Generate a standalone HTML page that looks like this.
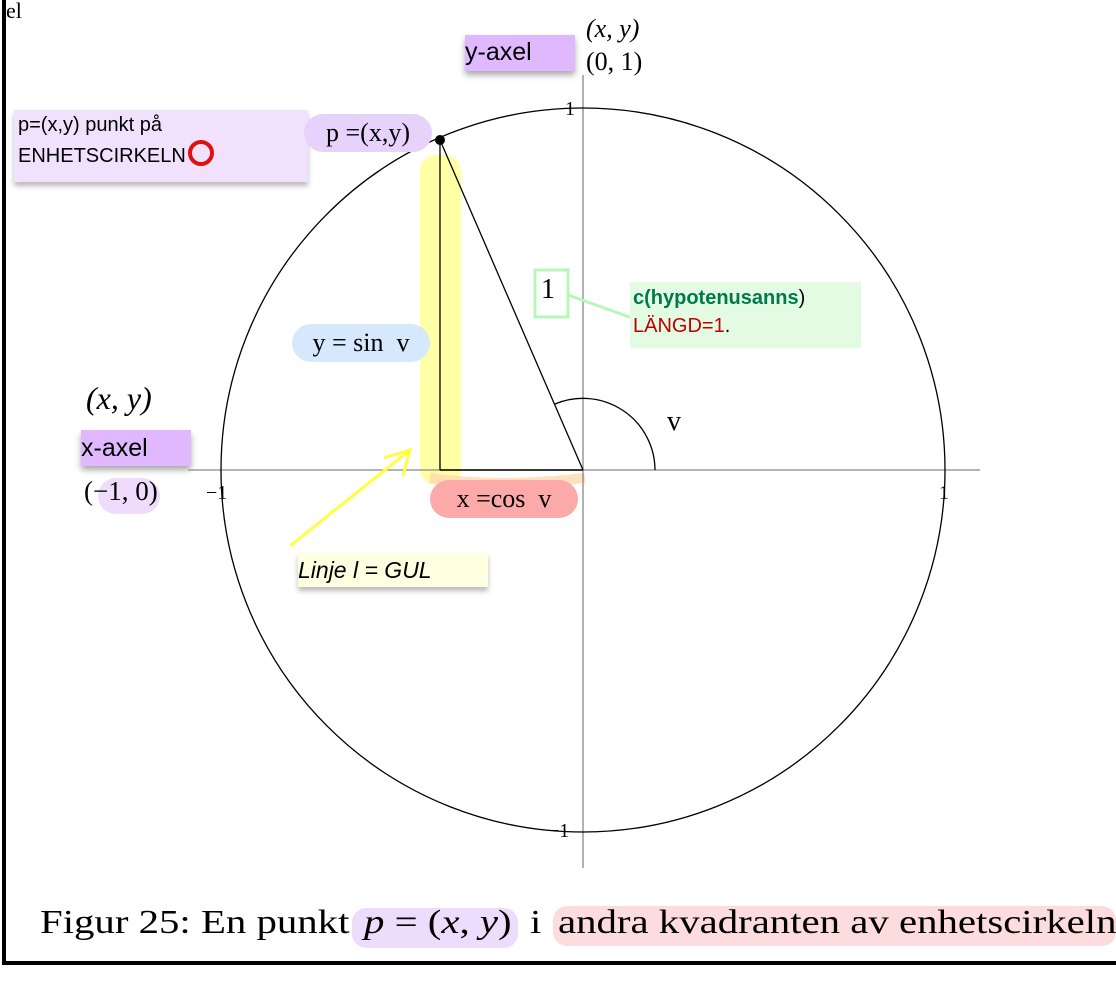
<!DOCTYPE html>
<html><head><meta charset="utf-8"><style>
body{margin:0;background:#fff;width:1116px;height:1000px;overflow:hidden;position:relative;font-family:"Liberation Serif",serif}
.a{position:absolute;white-space:nowrap}
.s{font-family:"Liberation Sans",sans-serif}
.c{font-size:34px;top:904px;transform:scaleX(1.2);transform-origin:0 0}
</style></head><body>
<svg width="1116" height="1000" style="position:absolute;left:0;top:0">
<line x1="4" y1="0" x2="4" y2="964" stroke="#000" stroke-width="4"/>
<line x1="2" y1="963" x2="1116" y2="963" stroke="#000" stroke-width="4"/>
<rect x="420" y="155" width="41" height="330" rx="16" fill="#ffff90" opacity="0.8"/>
<path d="M430 478 Q500 488 585 478" stroke="#ffd8b0" stroke-width="10" fill="none" opacity="0.8"/>
<line x1="188" y1="470" x2="980" y2="470" stroke="#888" stroke-width="1.3"/>
<line x1="583" y1="75" x2="583" y2="868" stroke="#888" stroke-width="1.3"/>
<circle cx="583" cy="470" r="362" fill="none" stroke="#000" stroke-width="1.3"/>
<line x1="440" y1="140" x2="440" y2="470" stroke="#000" stroke-width="1.3"/>
<line x1="440" y1="470" x2="583" y2="470" stroke="#000" stroke-width="1.6"/>
<line x1="440" y1="140" x2="583" y2="470" stroke="#000" stroke-width="1.3"/>
<path d="M655 470 A72 72 0 0 0 555 404" fill="none" stroke="#000" stroke-width="1.3"/>
<circle cx="440" cy="140" r="5" fill="#000"/>
<line x1="290" y1="546" x2="410" y2="450" stroke="#ffff40" stroke-width="3"/>
<polyline points="384,458 410,450 403,476" fill="none" stroke="#ffff40" stroke-width="3"/>
<rect x="535" y="270" width="33" height="47" fill="none" stroke="#b8f5b8" stroke-width="3"/>
<line x1="568" y1="295" x2="632" y2="318" stroke="#b8f5b8" stroke-width="3"/>
</svg>
<div class="a s" style="left:465px;top:35px;width:110px;height:36px;background:#e0b8ff;box-shadow:0 4px 6px #aaa;font-size:25px;line-height:34px">y-axel</div>
<div class="a" style="left:586px;top:14px;font-size:26px;font-style:italic">(x, y)</div>
<div class="a" style="left:586px;top:47px;font-size:26px">(0, 1)</div>
<div class="a" style="left:565px;top:98px;font-size:20px">1</div>
<div class="a s" style="left:14px;top:110px;width:290px;height:72px;background:#f1e1fd;box-shadow:0 4px 5px #bbb;font-size:20px;line-height:30px;padding-left:4px">p=(x,y) punkt på<br>ENHETSCIRKELN<span style="display:inline-block;width:18px;height:18px;border:4px solid #e01010;border-radius:50%;vertical-align:-4px;margin-left:2px"></span></div>
<div class="a" style="left:304px;top:114px;width:128px;height:38px;background:#e6d2fb;border-radius:19px;font-size:26px;line-height:38px;text-align:center">p =(x,y)</div>
<div class="a" style="left:541px;top:274px;font-size:28px">1</div>
<div class="a s" style="left:630px;top:282px;width:228px;height:64px;background:#e3fbe3;font-size:20px;line-height:28px;padding-left:3px;padding-top:2px"><b style="color:#007a4a">c(hypotenusanns</b>)<br><span style="color:#c00000">LÄNGD=1</span>.</div>
<div class="a" style="left:292px;top:324px;width:138px;height:38px;background:#d6e8fb;border-radius:19px;font-size:26px;line-height:38px;text-align:center">y = sin&nbsp; v</div>
<div class="a" style="left:667px;top:406px;font-size:28px">v</div>
<div class="a" style="left:86px;top:380px;font-size:32px;font-style:italic">(x, y)</div>
<div class="a s" style="left:81px;top:430px;width:110px;height:36px;background:#e0b8ff;box-shadow:0 4px 6px #aaa;font-size:25px;line-height:36px">x-axel</div>
<div class="a" style="left:98px;top:478px;width:62px;height:36px;background:#efdcfc;border-radius:18px"></div>
<div class="a" style="left:84px;top:476px;font-size:27px">(−1, 0)</div>
<div class="a" style="left:206px;top:482px;font-size:20px">−1</div>
<div class="a" style="left:939px;top:482px;font-size:20px">1</div>
<div class="a" style="left:548px;top:820px;font-size:20px">−1</div>
<div class="a" style="left:430px;top:480px;width:148px;height:38px;background:#fba9a9;border-radius:19px;font-size:26px;line-height:38px;text-align:center">x =cos&nbsp; v</div>
<div class="a s" style="left:298px;top:553px;width:190px;height:34px;background:#fefee0;box-shadow:0 4px 5px #bbb;font-size:23px;line-height:34px;font-style:italic">Linje l = GUL</div>
<div class="a" style="left:352px;top:908px;width:166px;height:40px;background:#eddcfc;border-radius:14px"></div>
<div class="a" style="left:553px;top:906px;width:563px;height:40px;background:#fcdcdc;border-radius:14px"></div>
<div class="a c" style="left:40px">Figur 25: En punkt</div>
<div class="a c" style="left:364px"><i>p</i> = (<i>x</i>, <i>y</i>)</div>
<div class="a c" style="left:530px">i</div>
<div class="a c" style="left:558px">andra kvadranten av enhetscirkeln</div>
<div class="a" style="left:6px;top:0px;font-size:22px;line-height:22px">el</div>
</body></html>
